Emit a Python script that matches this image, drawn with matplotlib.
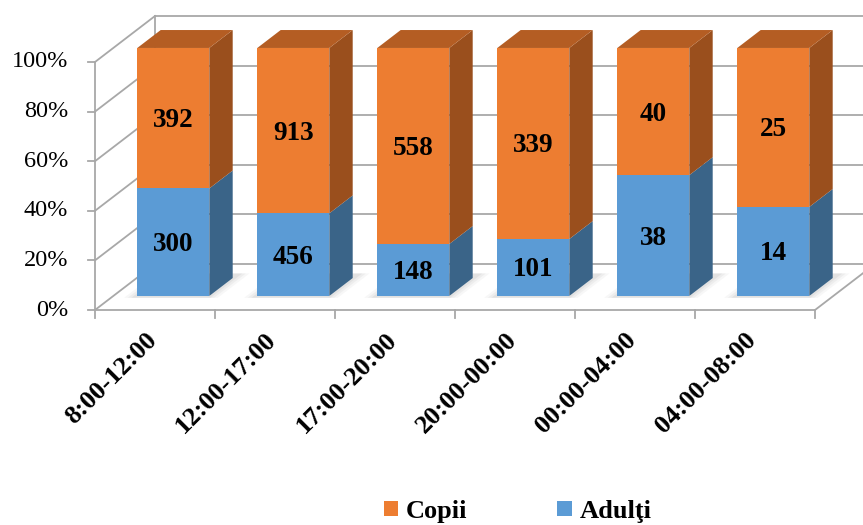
import matplotlib
matplotlib.use("Agg")
import matplotlib.pyplot as plt
from matplotlib.patches import Polygon, Patch

# data
categories = ["8:00-12:00", "12:00-17:00", "17:00-20:00", "20:00-00:00", "00:00-04:00", "04:00-08:00"]
adulti = [300, 456, 148, 101, 38, 14]
copii = [392, 913, 558, 339, 40, 25]
yticks = [0, 20, 40, 60, 80, 100]

plt.rcParams['font.family'] = ['Liberation Serif', 'DejaVu Serif']

# oblique projection: depth d in [0, 1] shifts by DX categories and DY percent
DX = 0.5
DY = 18.55
BAR_D0, BAR_D1 = 0.305, 0.695
BAR_W = 0.6

ORANGE = ('#ED7D31', '#B45D23', '#9A4F1D')   # front, top, side
BLUE = ('#5B9BD5', '#4A80B0', '#3A6488')
GRID = '#A8A8A8'


def proj(x, y, d):
    return x + d * DX, y + d * DY


fig = plt.figure(figsize=(8.63, 5.25), dpi=100)
ax = fig.add_axes([0, 0, 1, 1])
ax.set_xlim(-95 / 120, (863 - 95) / 120)
ax.set_ylim((310 - 525) / 2.48, 310 / 2.48)
ax.axis('off')

n = len(categories)

# walls and floor
for t in yticks:
    bx0, by = proj(0, t, 1)
    ax.plot([bx0, n + 1], [by, by], color=GRID, lw=1.3, zorder=1)
    ax.plot([0, bx0], [t, by], color=GRID, lw=1.3, zorder=1)
ax.plot([DX, DX], [DY, 100 + DY], color=GRID, lw=1.3, zorder=1)
ax.plot([0, n], [0, 0], color=GRID, lw=1.3, zorder=1)
fx, fy = proj(n, 0, 1)
ax.plot([n, fx], [0, fy], color=GRID, lw=1.3, zorder=1)
ax.plot([0, 0], [0, 100], color=GRID, lw=1.3, zorder=1)

# axis ticks
for t in yticks:
    ax.plot([-0.058, 0], [t, t], color=GRID, lw=1.3, zorder=1)
    ax.text(-0.225, t, f"{t}%", ha='right', va='center', fontsize=17.5)
for i in range(n + 1):
    ax.plot([i, i], [0, -3.2], color=GRID, lw=1.3, zorder=1)

# 100% stacked values
totals = [a + c for a, c in zip(adulti, copii)]
pa = [100 * a / t for a, t in zip(adulti, totals)]
pc = [100 * c / t for c, t in zip(copii, totals)]


def draw_box(xc, bottom, height, colors, top_face):
    x0, x1 = xc - BAR_W / 2, xc + BAR_W / 2
    y0, y1 = bottom, bottom + height
    # right side
    side = [proj(x1, y0, BAR_D0), proj(x1, y0, BAR_D1),
            proj(x1, y1, BAR_D1), proj(x1, y1, BAR_D0)]
    ax.add_patch(Polygon(side, closed=True, fc=colors[2], ec='none', zorder=3))
    if top_face:
        top = [proj(x0, y1, BAR_D0), proj(x1, y1, BAR_D0),
               proj(x1, y1, BAR_D1), proj(x0, y1, BAR_D1)]
        ax.add_patch(Polygon(top, closed=True, fc=colors[1], ec='none', zorder=3))
    fx0, fy0 = proj(xc, y0, BAR_D0)
    ax.bar(fx0, height, width=BAR_W, bottom=fy0, color=colors[0], zorder=4)


for i in range(n):
    xc = i + 0.5
    # soft shadow on the floor
    for k, a in enumerate([0.06, 0.08, 0.10]):
        g = 0.09 - 0.03 * k
        base = [proj(xc - BAR_W / 2 - g, 0, BAR_D0 - 0.04),
                proj(xc + BAR_W / 2 + g, 0, BAR_D0 - 0.04),
                proj(xc + BAR_W / 2 + g, 0, BAR_D1 + 0.1),
                proj(xc - BAR_W / 2 - g, 0, BAR_D1 + 0.1)]
        ax.add_patch(Polygon(base, closed=True, fc='#7F7F7F', ec='none', alpha=a, zorder=2))
    draw_box(xc, 0, pa[i], BLUE, False)
    draw_box(xc, pa[i], pc[i], ORANGE, True)

    lx, ly = proj(xc, pa[i] / 2, BAR_D0)
    ax.text(lx, ly - 1, str(adulti[i]), ha='center', va='center',
            fontsize=19.5, fontweight='bold', zorder=5)
    lx, ly = proj(xc, pa[i] + pc[i] / 2, BAR_D0)
    ax.text(lx, ly - 1, str(copii[i]), ha='center', va='center',
            fontsize=19.5, fontweight='bold', zorder=5)

    ax.text(xc + 0.05, -7.3, categories[i], rotation=45, ha='right', va='top',
            fontsize=19, fontweight='bold')

handles = [Patch(facecolor=ORANGE[0], label='Copii'),
           Patch(facecolor=BLUE[0], label='Adulţi')]
ax.legend(handles=handles, ncol=2, loc='center', bbox_to_anchor=(0.6, 0.026),
          frameon=False, handlelength=0.54, handleheight=0.54, handletextpad=0.3,
          columnspacing=3.4, prop={'weight': 'bold', 'size': 19})

fig.savefig('out.png', dpi=100)
